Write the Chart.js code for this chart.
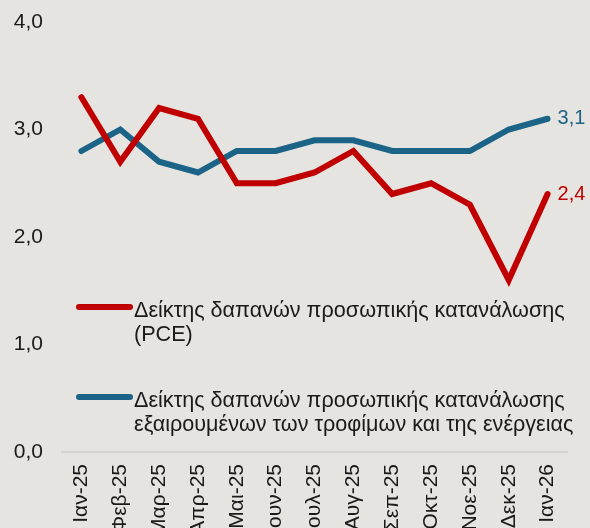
<!DOCTYPE html>
<html>
<head>
<meta charset="utf-8">
<script src="https://cdn.jsdelivr.net/npm/chart.js@4"></script>
<style>
  html, body { margin: 0; padding: 0; background: #e5e4e0; overflow: hidden; }
  #wrap { width: 590px; height: 528px; overflow: hidden; }
</style>
</head>
<body>
<div id="wrap"><canvas id="chart" width="590" height="570"></canvas></div>
<script>
const months = ["Ιαν-25", "Φεβ-25", "Μαρ-25", "Απρ-25", "Μαι-25", "Ιουν-25", "Ιουλ-25",
  "Αυγ-25", "Σεπ-25", "Οκτ-25", "Νοε-25", "Δεκ-25", "Ιαν-26"];
const pce = [3.3, 2.7, 3.2, 3.1, 2.5, 2.5, 2.6, 2.8, 2.4, 2.5, 2.3, 1.6, 2.4];
const corePce = [2.8, 3.0, 2.7, 2.6, 2.8, 2.8, 2.9, 2.9, 2.8, 2.8, 2.8, 3.0, 3.1];
const pceLabel = ["Δείκτης δαπανών προσωπικής κατανάλωσης", "(PCE)"];
const coreLabel = ["Δείκτης δαπανών προσωπικής κατανάλωσης", "εξαιρουμένων των τροφίμων και της ενέργειας"];

const RED = "#c00000";
const BLUE = "#1b6387";
const FONT = "'Liberation Sans', Arial, sans-serif";

// value at the end of each line + legend drawn inside the plot
const extras = {
  id: "extras",
  afterDatasetsDraw(chart) {
    const ctx = chart.ctx;
    ctx.save();
    ctx.font = "20px " + FONT;
    ctx.textBaseline = "middle";
    ctx.textAlign = "left";
    chart.data.datasets.forEach(function (ds, i) {
      const pts = chart.getDatasetMeta(i).data;
      const last = pts[pts.length - 1];
      const val = ds.data[ds.data.length - 1];
      ctx.fillStyle = ds.borderColor;
      ctx.fillText(val.toFixed(1).replace(".", ","), last.x + 10, last.y);
    });

    const items = [
      { color: RED, text: pceLabel, y: 307 },
      { color: BLUE, text: coreLabel, y: 397 }
    ];
    ctx.font = "21.6px " + FONT;
    ctx.textBaseline = "alphabetic";
    items.forEach(function (item) {
      ctx.strokeStyle = item.color;
      ctx.lineWidth = 6;
      ctx.lineCap = "round";
      ctx.beginPath();
      ctx.moveTo(79, item.y);
      ctx.lineTo(130, item.y);
      ctx.stroke();
      ctx.fillStyle = "#1a1a1a";
      item.text.forEach(function (line, k) {
        ctx.fillText(line, 134, item.y + 10 + k * 24);
      });
    });
    ctx.restore();
  }
};

new Chart(document.getElementById("chart"), {
  type: "line",
  data: {
    labels: months,
    datasets: [
      {
        label: pceLabel.join(" "),
        data: pce,
        borderColor: RED,
        borderWidth: 6,
        pointRadius: 0,
        tension: 0,
        borderCapStyle: "round"
      },
      {
        label: coreLabel.join(" "),
        data: corePce,
        borderColor: BLUE,
        borderWidth: 6,
        pointRadius: 0,
        tension: 0,
        borderCapStyle: "round"
      }
    ]
  },
  options: {
    responsive: false,
    animation: false,
    layout: { padding: { top: 22, right: 23, left: 0, bottom: 0 } },
    plugins: {
      legend: { display: false },
      tooltip: { enabled: false }
    },
    scales: {
      x: {
        offset: true,
        grid: { display: false, drawTicks: false },
        border: { display: true, color: "#d3d2ce", width: 2 },
        ticks: {
          minRotation: 90,
          maxRotation: 90,
          autoSkip: false,
          padding: 12,
          color: "#1a1a1a",
          font: { family: FONT, size: 21 }
        },
        afterFit: function (scale) { scale.height = 118; }
      },
      y: {
        min: 0,
        max: 4,
        grid: { display: false, drawTicks: false },
        border: { display: false },
        ticks: {
          stepSize: 1,
          padding: 19,
          color: "#1a1a1a",
          font: { family: FONT, size: 21 },
          callback: function (v) { return v.toFixed(1).replace(".", ","); }
        },
        afterFit: function (scale) {
          scale.width = 62;
          scale.paddingTop = 0;
          scale.paddingBottom = 0;
        }
      }
    }
  },
  plugins: [extras]
});
</script>
</body>
</html>
